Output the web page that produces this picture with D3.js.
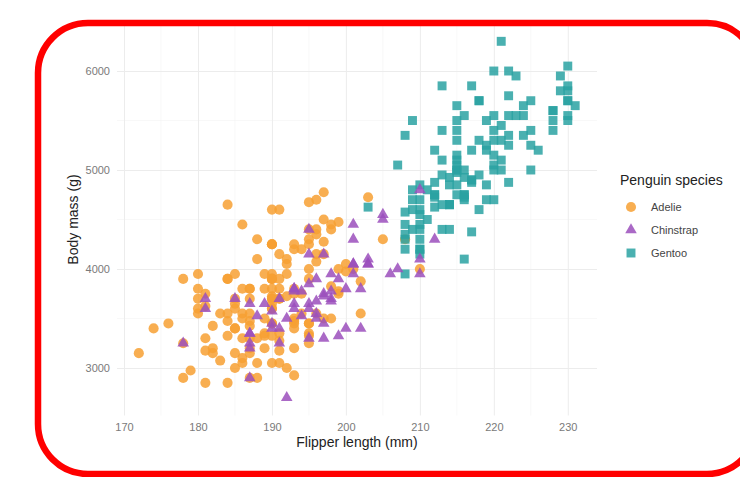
<html>

<head>
  <style>
    body {
      padding: 0px;
      margin: 0px;
      background-color: white;
    }

    svg {
      display: block;
      font-family: "Liberation Sans", Arial, sans-serif;
    }

    .tick text {
      fill: #7a7a7a;
      font-size: 11px;
    }
  </style>
</head>

<body>
  <div id="chart"></div>
  <script src="https://cdnjs.cloudflare.com/ajax/libs/d3/7.8.5/d3.min.js"></script>
  <script>
    // penguin measurements, row order as in the dataset
    var adelieFlipper = [181, 186, 195, 193, 190, 181, 195, 193, 190, 186, 180, 182, 191, 198, 185, 195, 197, 184, 194,
      174, 180, 189, 185, 180, 187, 183, 187, 172, 180,
      178, 178, 188, 184, 195, 196, 190, 180, 181, 184, 182, 195, 186, 196, 185, 190, 182, 179, 190, 191,
      186, 188, 190, 200, 187, 191, 186, 193, 181, 194, 185, 195, 185, 192, 184, 192, 195, 188,
      190, 198, 190, 190, 196, 197, 190, 195, 191, 184, 187, 195, 189, 196, 187, 193,
      191, 194, 190, 189, 189, 190, 202, 205, 185, 186, 187, 208, 190, 196, 178, 192,
      192, 203, 183, 190, 193, 184, 199, 190, 181, 197, 198, 191, 193, 197, 191, 196,
      188, 199, 189, 189, 187, 198, 176, 202, 186, 199, 191, 195, 191, 210, 190, 197,
      193, 199, 187, 190, 191, 200, 185, 193, 193, 187, 188, 190, 192, 185, 190, 184, 195, 193, 187, 201];
    var adelieMass = [3750, 3800, 3250, 3450, 3650, 3625, 4675, 3475, 4250, 3300, 3700, 3200, 3800, 4400, 3700, 3450, 4500, 3325, 4200,
      3400, 3600, 3800, 3950, 3800, 3800, 3550, 3200, 3150, 3950,
      3250, 3900, 3300, 3900, 3325, 4150, 3950, 3550, 3300, 4650, 3150, 3900, 3100, 4400, 3000, 4600, 3425, 2975, 3450, 4150,
      3500, 4300, 3450, 4050, 2900, 3700, 3550, 3800, 2850, 3750, 3150, 4400, 3600, 4050, 2850, 3950, 3350, 4100,
      3050, 4450, 3600, 3900, 3550, 4150, 3700, 4250, 3700, 3900, 3550, 4000, 3200, 4700, 3800, 4200,
      3350, 3550, 3800, 3500, 3950, 3600, 3550, 4300, 3400, 4450, 3300, 4300, 3700, 4350, 2900, 4100,
      3725, 4725, 3075, 4250, 2925, 3550, 3750, 3900, 3175, 4775, 3825, 4600, 3200, 4275, 3900, 4075,
      2900, 3775, 3350, 3325, 3150, 3500, 3450, 3875, 3050, 4000, 3275, 4300, 3050, 4000, 3325, 3500,
      3500, 4475, 3425, 3900, 3175, 3975, 3400, 4250, 3400, 3475, 3050, 3725, 3000, 3650, 4250, 3475, 3450, 3750, 3700, 4000];

    var gentooFlipper = [211, 230, 210, 218, 215, 210, 211, 219, 209, 215, 214, 216, 214, 213, 210, 217, 210, 221, 209, 222,
      218, 215, 213, 215, 215, 215, 216, 215, 210, 220, 222, 209, 207, 230,
      220, 220, 213, 219, 208, 208, 208, 225, 210, 216, 222, 217, 210, 225, 213, 215, 210, 220, 210, 225,
      217, 220, 208, 220, 208, 224, 208, 221, 214, 231, 219, 230, 214, 229, 220, 223, 216, 221, 221, 217,
      216, 230, 209, 220, 215, 223,
      212, 221, 212, 224, 212, 228, 218, 218, 212, 230, 218, 228, 212, 224, 214, 226, 216, 222, 203, 225,
      219, 228, 215, 228, 216, 215, 210, 219, 208, 209, 216, 229, 213, 230, 217, 230, 217, 222, 214,
      215, 222, 212, 213];
    var gentooMass = [4500, 5700, 4450, 5700, 5400, 4550, 4800, 5200, 4400, 5150, 4650, 5550, 4650, 5850, 4200, 5850, 4150, 6300, 4800, 5350,
      5700, 5000, 4400, 5050, 5000, 5100, 4100, 5650, 4600, 5550, 5250, 4700, 5050, 6050,
      5150, 5400, 4950, 5250, 4350, 5350, 3950, 5700, 4300, 4750, 5550, 4900, 4200, 5400, 5100, 5300, 4850, 5300, 4400, 5000,
      4900, 5050, 4300, 5000, 4450, 5550, 4200, 5300, 4400, 5650, 4700, 5700, 4650, 5800, 4700, 5550, 4750, 5000, 5100, 5200,
      4700, 5800, 4600, 6000, 4750, 5950,
      4625, 5450, 4725, 5350, 4750, 5600, 4600, 5300, 4875, 5550, 4950, 5400, 4750, 5650, 4850, 5200, 4925, 4875, 4625, 5250,
      4850, 5600, 4975, 5500, 4725, 5500, 4700, 5500, 4575, 5500, 5000, 5950, 4650, 5500, 4375, 5850, 4875, 6000, 4925,
      4850, 5750, 5200, 5400];

    var chinstrapFlipper = [192, 196, 193, 188, 197, 198, 178, 197, 195, 198, 193, 194, 185, 201, 190, 201, 197, 181, 190, 195,
      181, 191, 187, 193, 195, 197,
      200, 200, 191, 205, 187, 201, 187, 203, 195, 199, 195, 210, 192, 205, 210, 187, 196, 196,
      196, 201, 190, 212, 187, 198, 199, 201, 193, 203, 187, 197, 191, 203, 202, 194, 206, 189, 195, 207,
      202, 193, 210, 198];
    var chinstrapMass = [3500, 3900, 3650, 3525, 3725, 3950, 3250, 3750, 4150, 3700, 3800, 3775, 3700, 4050, 3575, 4050, 3300, 3700, 3450, 4400,
      3600, 3400, 2900, 3800, 3300, 4150,
      3400, 3800, 3700, 4550, 3200, 4300, 3350, 4100, 3600, 3900, 3850, 4800, 2700, 4500, 3950, 3650, 3550, 3500,
      3675, 4450, 3400, 4300, 3250, 3675, 3325, 3950, 3600, 4050, 3350, 3450, 3250, 4050, 3800, 3525, 3950, 3650, 3650, 4000,
      3400, 3775, 4100, 3775];

    var species = ["Adelie", "Chinstrap", "Gentoo"];
    var xTicks = [170, 180, 190, 200, 210, 220, 230];
    var yTicks = [3000, 4000, 5000, 6000];

    var width = 740,
      height = 477;

    var colors = {
      Adelie: "#f7a033",
      Chinstrap: "#9b4fbc",
      Gentoo: "#2aa2a2"
    };
    var shapes = {
      Adelie: d3.symbol().type(d3.symbolCircle).size(80),
      Chinstrap: d3.symbol().type(d3.symbolTriangle).size(58),
      Gentoo: d3.symbol().type(d3.symbolSquare).size(80)
    };

    // rows in dataset order: Adelie, Gentoo, Chinstrap
    var points = [];
    adelieFlipper.forEach(function(f, i) {
      points.push({ sp: "Adelie", x: f, y: adelieMass[i] });
    });
    gentooFlipper.forEach(function(f, i) {
      points.push({ sp: "Gentoo", x: f, y: gentooMass[i] });
    });
    chinstrapFlipper.forEach(function(f, i) {
      points.push({ sp: "Chinstrap", x: f, y: chinstrapMass[i] });
    });

    // ggplot style 5% expansion
    function expand(ext) {
      var pad = (ext[1] - ext[0]) * 0.05;
      return [ext[0] - pad, ext[1] + pad];
    }

    var x = d3.scaleLinear()
      .domain(expand(d3.extent(points, function(d) { return d.x; })))
      .range([117, 597]);
    var y = d3.scaleLinear()
      .domain(expand(d3.extent(points, function(d) { return d.y; })))
      .range([415.5, 23.5]);

    var svg = d3.select("#chart").append("svg")
      .attr("width", width)
      .attr("height", height);

    // grid
    var xMinor = d3.range(175, 231, 10);
    var yMinor = [3500, 4500, 5500];
    svg.append("g").selectAll("line")
      .data(xMinor)
      .enter().append("line")
      .attr("x1", function(d) { return x(d); })
      .attr("x2", function(d) { return x(d); })
      .attr("y1", y.range()[0])
      .attr("y2", y.range()[1])
      .attr("stroke", "#f3f3f3")
      .attr("stroke-width", 0.6);
    svg.append("g").selectAll("line")
      .data(yMinor)
      .enter().append("line")
      .attr("x1", x.range()[0])
      .attr("x2", x.range()[1])
      .attr("y1", function(d) { return y(d); })
      .attr("y2", function(d) { return y(d); })
      .attr("stroke", "#f3f3f3")
      .attr("stroke-width", 0.6);

    var xAxis = svg.append("g")
      .attr("transform", "translate(0," + y.range()[0] + ")")
      .call(d3.axisBottom(x).tickValues(xTicks).tickFormat(d3.format("d"))
        .tickSize(-(y.range()[0] - y.range()[1])).tickPadding(8));
    var yAxis = svg.append("g")
      .attr("transform", "translate(" + x.range()[0] + ",0)")
      .call(d3.axisLeft(y).tickValues(yTicks).tickFormat(d3.format("d"))
        .tickSize(-(x.range()[1] - x.range()[0])).tickPadding(7));
    [xAxis, yAxis].forEach(function(ax) {
      ax.select(".domain").remove();
      ax.selectAll(".tick line").attr("stroke", "#ececec").attr("stroke-width", 1);
    });

    // points
    svg.append("g").selectAll("path")
      .data(points)
      .enter().append("path")
      .attr("d", function(d) { return shapes[d.sp](); })
      .attr("transform", function(d) { return "translate(" + x(d.x) + "," + y(d.y) + ")"; })
      .attr("fill", function(d) { return colors[d.sp]; })
      .attr("fill-opacity", 0.85);

    // axis titles
    svg.append("text")
      .attr("x", (x.range()[0] + x.range()[1]) / 2)
      .attr("y", 447)
      .attr("text-anchor", "middle")
      .attr("font-size", 14)
      .attr("fill", "#222")
      .text("Flipper length (mm)");
    svg.append("text")
      .attr("transform", "translate(78," + (y.range()[0] + y.range()[1]) / 2 + ") rotate(-90)")
      .attr("text-anchor", "middle")
      .attr("font-size", 14)
      .attr("fill", "#222")
      .text("Body mass (g)");

    // legend
    var legend = svg.append("g");
    legend.append("text")
      .attr("x", 620)
      .attr("y", 185)
      .attr("font-size", 14)
      .attr("fill", "#222")
      .text("Penguin species");
    var items = legend.selectAll("g.item")
      .data(species)
      .enter().append("g")
      .attr("class", "item")
      .attr("transform", function(d, i) { return "translate(631," + (207 + i * 23) + ")"; });
    items.append("path")
      .attr("d", function(d) { return shapes[d](); })
      .attr("fill", function(d) { return colors[d]; })
      .attr("fill-opacity", 0.85);
    items.append("text")
      .attr("x", 20)
      .attr("dy", "0.35em")
      .attr("font-size", 11)
      .attr("fill", "#444")
      .text(function(d) { return d; });

    // red frame
    svg.append("rect")
      .attr("x", 38)
      .attr("y", 23)
      .attr("width", 719)
      .attr("height", 451)
      .attr("rx", 50)
      .attr("fill", "none")
      .attr("stroke", "#ff0000")
      .attr("stroke-width", 6.5);
  </script>
</body>

</html>
